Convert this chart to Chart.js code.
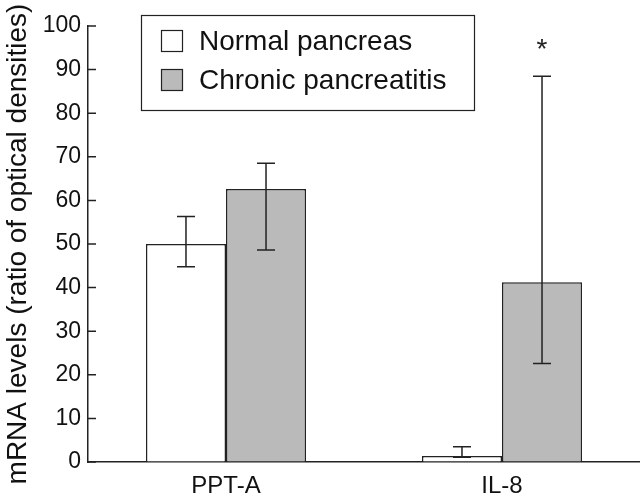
<!DOCTYPE html>
<html>
<head>
<meta charset="utf-8">
<script src="https://cdn.jsdelivr.net/npm/chart.js@4/dist/chart.umd.min.js"></script>
<style>
  body { margin: 0; background: #fff; }
  #wrap { width: 640px; height: 494px; position: relative; }
</style>
</head>
<body>
<div id="wrap"><canvas id="chart"></canvas></div>
<script>
// data
const categories = ['PPT-A', 'IL-8'];
const seriesNames = ['Normal pancreas', 'Chronic pancreatitis'];
const normalMean = [50, 1.4];
const normalLow = [44.8, 1.1];
const normalHigh = [56.3, 3.5];
const chronicMean = [62.6, 41.2];
const chronicLow = [48.6, 22.6];
const chronicHigh = [68.5, 88.5];
const yTicks = [0, 10, 20, 30, 40, 50, 60, 70, 80, 90, 100];
const significant = [false, true]; // asterisk over chronic bar

const ink = '#222';
const fontFam = '"Liberation Sans", Arial, Helvetica, sans-serif';

// error bars + asterisk, drawn at the bar positions from the scales
const errorBars = {
    id: 'errorBars',
    afterDatasetsDraw(chart) {
        const ctx = chart.ctx;
        const y = chart.scales.y;
        const lows = [normalLow, chronicLow];
        const highs = [normalHigh, chronicHigh];
        ctx.save();
        ctx.strokeStyle = ink;
        ctx.lineWidth = 1.5;
        chart.data.datasets.forEach((ds, d) => {
            const meta = chart.getDatasetMeta(d);
            meta.data.forEach((bar, i) => {
                const yl = y.getPixelForValue(lows[d][i]);
                const yh = y.getPixelForValue(highs[d][i]);
                ctx.beginPath();
                ctx.moveTo(bar.x, yl); ctx.lineTo(bar.x, yh);
                ctx.moveTo(bar.x - 9, yl); ctx.lineTo(bar.x + 9, yl);
                ctx.moveTo(bar.x - 9, yh); ctx.lineTo(bar.x + 9, yh);
                ctx.stroke();
                if (d === 1 && significant[i]) {
                    ctx.fillStyle = ink;
                    ctx.font = '28px ' + fontFam;
                    ctx.textAlign = 'center';
                    ctx.textBaseline = 'middle';
                    ctx.fillText('*', bar.x, yh - 26);
                }
            });
        });
        ctx.restore();
    }
};

// inward y ticks and boxed legend
const decor = {
    id: 'decor',
    afterDraw(chart) {
        const ctx = chart.ctx;
        const y = chart.scales.y;
        const left = chart.chartArea.left;
        ctx.save();
        ctx.strokeStyle = ink;
        ctx.lineWidth = 1.5;
        ctx.beginPath();
        y.ticks.forEach((t, i) => {
            const py = y.getPixelForTick(i);
            ctx.moveTo(left, py);
            ctx.lineTo(left + 8, py);
        });
        ctx.stroke();

        // legend box
        ctx.lineWidth = 1.2;
        ctx.strokeRect(141.5, 15.5, 333, 95);
        ctx.font = '28px ' + fontFam;
        ctx.textBaseline = 'middle';
        ctx.textAlign = 'left';
        chart.data.datasets.forEach((ds, d) => {
            const cy = 41 + d * 39;
            ctx.fillStyle = ds.backgroundColor;
            ctx.fillRect(161, cy - 11, 22, 22);
            ctx.strokeRect(161.5, cy - 10.5, 21, 21);
            ctx.fillStyle = '#111';
            ctx.fillText(ds.label, 199, cy + 1);
        });
        ctx.restore();
    }
};

new Chart(document.getElementById('chart'), {
    type: 'bar',
    data: {
        labels: categories,
        datasets: [
            { label: seriesNames[0], data: normalMean, backgroundColor: '#ffffff',
              borderColor: ink, borderWidth: 1.5 },
            { label: seriesNames[1], data: chronicMean, backgroundColor: '#bababa',
              borderColor: ink, borderWidth: 1.5 }
        ]
    },
    options: {
        responsive: true,
        maintainAspectRatio: false,
        animation: false,
        categoryPercentage: 0.58,
        barPercentage: 1.0,
        layout: { padding: { top: 26, right: 0, left: 0, bottom: 0 } },
        plugins: {
            legend: { display: false },
            tooltip: { enabled: false }
        },
        scales: {
            x: {
                grid: { display: false, drawTicks: false },
                border: { display: true, color: ink, width: 1.5 },
                ticks: { color: '#111', font: { family: fontFam, size: 24 }, padding: 10 },
                afterFit: (s) => { s.height = 32; }
            },
            y: {
                min: 0,
                max: 100,
                afterBuildTicks: (s) => { s.ticks = yTicks.map(v => ({ value: v })); },
                grid: { drawOnChartArea: false, drawTicks: false },
                border: { display: true, color: ink, width: 1.5 },
                ticks: { color: '#111', font: { family: fontFam, size: 23 }, padding: 7 },
                title: {
                    display: true,
                    text: 'mRNA levels (ratio of optical densities)',
                    color: '#111',
                    font: { family: fontFam, size: 28 },
                    padding: { top: 1, bottom: 0 }
                },
                afterFit: (s) => { s.width = 88; }
            }
        }
    },
    plugins: [errorBars, decor]
});
</script>
</body>
</html>
